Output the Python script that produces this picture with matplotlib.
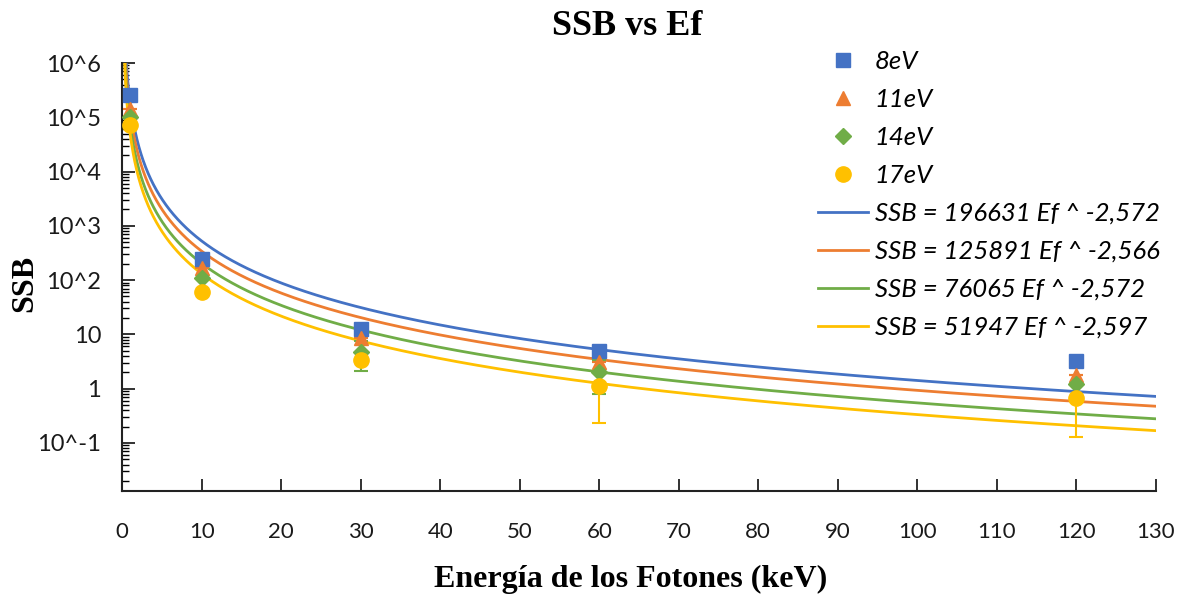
import numpy as np
import matplotlib
matplotlib.use("Agg")
import matplotlib.pyplot as plt
from matplotlib.ticker import FixedLocator, LogLocator, NullFormatter

# ---- data ----
energies = [1, 10, 30, 60, 120]
series_labels = ["8eV", "11eV", "14eV", "17eV"]
ssb_8 = [2.6e5, 247, 12.7, 5.0, 3.3]
ssb_11 = [1.4e5, 169, 8.7, 3.1, 1.8]
ssb_14 = [1.0e5, 111, 4.8, 2.05, 1.2]
ssb_17 = [7.3e4, 61, 3.4, 1.1, 0.68]
err_8 = [0, 0, 0, 0, 0]
err_11 = [0, 0, 0, 0, 0]
err_14 = [0, 0, 2.7, 1.27, 0]
err_17 = [0, 0, 0, 0.87, 0.55]
fit_a = [196631, 125891, 76065, 51947]
fit_b = [-2.572, -2.566, -2.572, -2.597]
fit_labels = ["SSB = 196631 Ef ^ -2,572", "SSB = 125891 Ef ^ -2,566",
              "SSB = 76065 Ef ^ -2,572", "SSB = 51947 Ef ^ -2,597"]
x_ticks = list(range(0, 131, 10))
y_tick_vals = [1e-1, 1, 10, 1e2, 1e3, 1e4, 1e5, 1e6]
y_tick_labels = ["10^-1", "1", "10", "10^2", "10^3", "10^4", "10^5", "10^6"]

colors = ["#4472C4", "#ED7D31", "#70AD47", "#FFC000"]
markers = ["s", "^", "D", "o"]
msizes = [10, 10, 8, 11]

fig = plt.figure(figsize=(11.85, 5.99), dpi=100)
ax = fig.add_axes([0.103, 0.1803, 0.8725, 0.7145])

series = [ssb_8, ssb_11, ssb_14, ssb_17]
errs = [err_8, err_11, err_14, err_17]
point_handles = []
for vals, er, c, m, ms in zip(series, errs, colors, markers, msizes):
    cont = ax.errorbar(energies, vals, yerr=er, fmt=m, color=c, ecolor=c,
                       ms=ms, capsize=5, elinewidth=1.5, capthick=1.5, zorder=3)
    point_handles.append(cont[0])

xf = np.linspace(0.3, 130, 2000)
line_handles = []
for a, b, c in zip(fit_a, fit_b, colors):
    ln, = ax.plot(xf, a * xf ** b, color=c, lw=2.0, zorder=2)
    line_handles.append(ln)

ax.set_yscale("log")
ax.set_xlim(0, 130)
ax.set_ylim(0.013, 1e6)
ax.set_xticks(x_ticks)
ax.set_xticklabels([str(t) for t in x_ticks], fontsize=16, family="Lato")
ax.yaxis.set_major_locator(FixedLocator(y_tick_vals))
ax.set_yticklabels(y_tick_labels, fontsize=17, family="Lato")
ax.yaxis.set_minor_locator(LogLocator(base=10, subs=np.arange(2, 10), numticks=20))
ax.yaxis.set_minor_formatter(NullFormatter())
ax.tick_params(axis="both", direction="in", length=9, width=1.3, colors="#222222")
ax.tick_params(axis="y", which="minor", direction="in", length=5, width=1.0)
ax.tick_params(axis="x", pad=22)
ax.tick_params(axis="y", pad=15)
for t in ax.get_xticklabels() + ax.get_yticklabels():
    t.set_color("#1a1a1a")
ax.spines["top"].set_visible(False)
ax.spines["right"].set_visible(False)
ax.spines["left"].set_linewidth(1.5)
ax.spines["bottom"].set_linewidth(1.5)
ax.spines["left"].set_color("#222222")
ax.spines["bottom"].set_color("#222222")

fig.text(0.529, 0.955, "SSB vs Ef", ha="center", va="center", fontsize=26,
         fontweight="bold", family="Liberation Serif")
fig.text(0.532, 0.033, "Energía de los Fotones (keV)", ha="center", va="center",
         fontsize=23, fontweight="bold", family="Liberation Serif")
fig.text(0.021, 0.527, "SSB", ha="center", va="center", rotation=90, fontsize=23,
         fontweight="bold", family="Liberation Serif")

leg = fig.legend(point_handles + line_handles, series_labels + fit_labels,
                 loc="upper left", bbox_to_anchor=(0.690, 0.916), frameon=False,
                 prop={"family": "Lato", "style": "italic", "size": 18.5},
                 handlelength=1.95, handletextpad=0.27, labelspacing=0.58,
                 borderpad=0, borderaxespad=0)

fig.savefig("out.png", dpi=100)
